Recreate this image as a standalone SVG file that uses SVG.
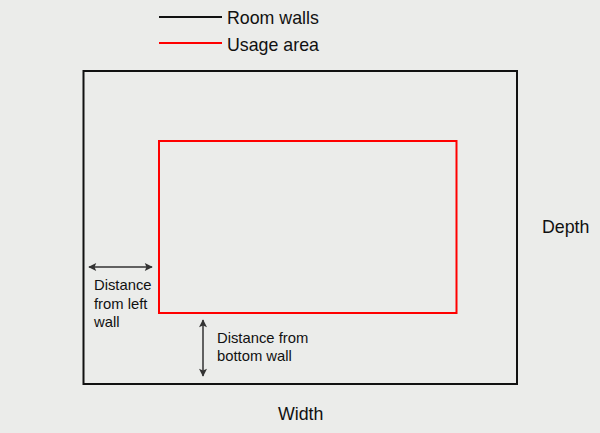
<svg xmlns="http://www.w3.org/2000/svg" width="600" height="433" viewBox="0 0 600 433">
<defs>
<style>
text{font-family:"Liberation Sans",Arial,sans-serif;fill:#111}
.big{font-size:17.8px}
.small{font-size:14.8px}
.arr{stroke:#333;stroke-width:1.5;fill:none}
</style>
<marker id="ah" viewBox="0 0 10 10" refX="9" refY="5" markerWidth="9" markerHeight="8" orient="auto-start-reverse" markerUnits="userSpaceOnUse">
<path d="M0,0 L10,5 L0,10 L2,5 z" fill="#333"/>
</marker>
</defs>
<rect width="600" height="433" fill="#ebecea"/>
<g id="legend">
<line x1="159" y1="17" x2="222" y2="17" stroke="#111" stroke-width="2"/>
<text class="big" x="227" y="24">Room walls</text>
<line x1="159" y1="43" x2="222" y2="43" stroke="#f00" stroke-width="2"/>
<text class="big" x="227" y="51">Usage area</text>
</g>
<g id="room-walls">
<rect x="83.5" y="71" width="433.5" height="313" fill="none" stroke="#111" stroke-width="2"/>
</g>
<g id="usage-area">
<rect x="159" y="141" width="297.5" height="172" fill="none" stroke="#f00" stroke-width="2"/>
</g>
<g id="connectors">
<line class="arr" x1="89" y1="267" x2="152" y2="267" marker-start="url(#ah)" marker-end="url(#ah)"/>
<line class="arr" x1="203" y1="320" x2="203" y2="376" marker-start="url(#ah)" marker-end="url(#ah)"/>
</g>
<g id="label-left">
<text class="small" x="94" y="290">Distance</text>
<text class="small" x="94" y="309">from left</text>
<text class="small" x="94" y="327">wall</text>
</g>
<g id="label-bottom">
<text class="small" x="217" y="343">Distance from</text>
<text class="small" x="217" y="361">bottom wall</text>
</g>
<g id="label-depth"><text class="big" x="542" y="233">Depth</text></g>
<g id="label-width"><text class="big" x="278" y="420">Width</text></g>
</svg>
